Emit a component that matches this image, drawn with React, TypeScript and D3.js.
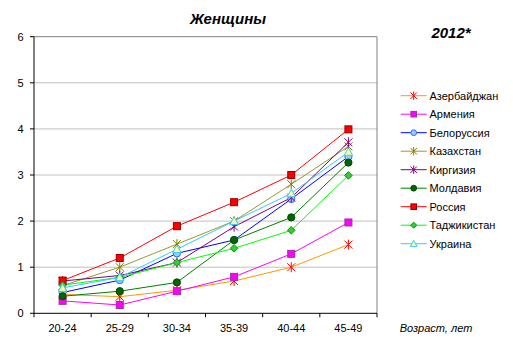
import React from "react";
import * as d3 from "d3";

const categories = ["20-24", "25-29", "30-34", "35-39", "40-44", "45-49"];
const yTicks = [0, 1, 2, 3, 4, 5, 6];

const azerbaijan = [0.41, 0.36, 0.5, 0.7, 1.0, 1.49];
const armenia = [0.27, 0.18, 0.48, 0.79, 1.29, 1.97];
const belarus = [0.45, 0.72, 1.3, 1.59, 2.48, 3.4];
const kazakhstan = [0.6, 1.0, 1.5, 2.0, 2.8, 3.62];
const kyrgyzstan = [0.7, 0.82, 1.1, 1.88, 2.51, 3.71];
const moldova = [0.37, 0.48, 0.67, 1.59, 2.08, 3.27];
const russia = [0.71, 1.2, 1.89, 2.41, 3.0, 3.99];
const tajikistan = [0.61, 0.78, 1.1, 1.41, 1.8, 2.99];
const ukraine = [0.55, 0.78, 1.39, 2.0, 2.6, 3.5];

type Marker = "star" | "square" | "circle" | "diamond" | "triangle";
interface Series {
  name: string;
  values: number[];
  line: string;
  fill: string;
  stroke: string;
  marker: Marker;
}

const series: Series[] = [
  { name: "Азербайджан", values: azerbaijan, line: "#ff9900", fill: "none", stroke: "#ff0000", marker: "star" },
  { name: "Армения", values: armenia, line: "#ff00ff", fill: "#ff00ff", stroke: "#993399", marker: "square" },
  { name: "Белоруссия", values: belarus, line: "#0000ff", fill: "#99ccff", stroke: "#3366ff", marker: "circle" },
  { name: "Казахстан", values: kazakhstan, line: "#999933", fill: "none", stroke: "#808000", marker: "star" },
  { name: "Киргизия", values: kyrgyzstan, line: "#800080", fill: "none", stroke: "#800080", marker: "star" },
  { name: "Молдавия", values: moldova, line: "#008000", fill: "#006400", stroke: "#004d00", marker: "circle" },
  { name: "Россия", values: russia, line: "#ff0000", fill: "#ff0000", stroke: "#990000", marker: "square" },
  { name: "Таджикистан", values: tajikistan, line: "#00ff00", fill: "#33cc33", stroke: "#009900", marker: "diamond" },
  { name: "Украина", values: ukraine, line: "#33ccff", fill: "#ffff99", stroke: "#33ccff", marker: "triangle" },
];

const FONT = "'Liberation Sans', Arial, sans-serif";

function MarkerShape({ m, x, y, fill, stroke, r = 1 }: { m: Marker; x: number; y: number; fill: string; stroke: string; r?: number }) {
  if (m === "star") {
    const s = 4 * r;
    const p = `M${x - s},${y - s}L${x + s},${y + s}M${x - s},${y + s}L${x + s},${y - s}M${x},${y - s - 1}L${x},${y + s + 1}`;
    return <path d={p} stroke={stroke} strokeWidth={1} fill="none" />;
  }
  if (m === "square") {
    const s = 3.5 * r;
    return <rect x={x - s} y={y - s} width={2 * s} height={2 * s} fill={fill} stroke={stroke} strokeWidth={1} />;
  }
  if (m === "circle") {
    return <circle cx={x} cy={y} r={3.6 * r} fill={fill} stroke={stroke} strokeWidth={1} />;
  }
  if (m === "diamond") {
    const s = 3.8 * r;
    return <path d={`M${x},${y - s}L${x + s},${y}L${x},${y + s}L${x - s},${y}Z`} fill={fill} stroke={stroke} strokeWidth={1} />;
  }
  const s = 4.2 * r;
  return <path d={`M${x},${y - s}L${x + s},${y + s * 0.8}L${x - s},${y + s * 0.8}Z`} fill={fill} stroke={stroke} strokeWidth={1} />;
}

export default function App() {
  const W = 513, H = 355;
  const left = 34, right = 377, top = 36.7, bottom = 313.3;
  const x = d3.scaleBand<string>().domain(categories).range([left, right]);
  const y = d3.scaleLinear().domain([0, 6]).range([bottom, top]);
  const line = d3
    .line<number>()
    .x((_, i) => (x(categories[i]) as number) + x.bandwidth() / 2)
    .y((v) => y(v));

  const legendX = 400.7, legendY0 = 95.7, legendStep = 18.5;

  return (
    <svg width={W} height={H} style={{ position: "absolute", left: 0, top: 0, background: "#fff" }} fontFamily={FONT}>
      <rect x={0} y={0} width={W} height={H} fill="#fff" />
      {yTicks.slice(1, -1).map((t) => (
        <line key={t} x1={left} x2={right} y1={y(t)} y2={y(t)} stroke="#c0c0c0" strokeWidth={1} />
      ))}
      <line x1={left} x2={right} y1={top} y2={top} stroke="#808080" />
      <line x1={right} x2={right} y1={top} y2={bottom} stroke="#808080" />
      <line x1={left} x2={left} y1={top} y2={bottom} stroke="#000" />
      <line x1={left} x2={right} y1={bottom} y2={bottom} stroke="#000" />
      {yTicks.map((t) => (
        <g key={t}>
          <line x1={left - 4} x2={left} y1={y(t)} y2={y(t)} stroke="#000" />
          <text x={20.5} y={y(t) + 4} fontSize={11} textAnchor="middle" fill="#000">
            {t}
          </text>
        </g>
      ))}
      {categories.map((c, i) => (
        <g key={c}>
          <line x1={x(c) as number} x2={x(c) as number} y1={bottom} y2={bottom + 4} stroke="#000" />
          {i === categories.length - 1 && <line x1={right} x2={right} y1={bottom} y2={bottom + 4} stroke="#000" />}
          <text x={(x(c) as number) + x.bandwidth() / 2} y={332} fontSize={11} textAnchor="middle" fill="#000">
            {c}
          </text>
        </g>
      ))}
      {series.map((s) => (
        <g key={s.name}>
          <path d={line(s.values) || ""} fill="none" stroke={s.line} strokeWidth={1} />
        </g>
      ))}
      {series.map((s) => (
        <g key={s.name + "m"}>
          {s.values.map((v, i) => (
            <MarkerShape key={i} m={s.marker} x={(x(categories[i]) as number) + x.bandwidth() / 2} y={y(v)} fill={s.fill} stroke={s.stroke} />
          ))}
        </g>
      ))}
      <text x={228} y={24} fontSize={15} fontWeight="bold" fontStyle="italic" textAnchor="middle" fill="#000">
        Женщины
      </text>
      <text x={451} y={38} fontSize={15} fontWeight="bold" fontStyle="italic" textAnchor="middle" fill="#000">
        2012*
      </text>
      <text x={436} y={332} fontSize={11} fontStyle="italic" textAnchor="middle" fill="#000">
        Возраст, лет
      </text>
      {series.map((s, i) => {
        const ly = legendY0 + i * legendStep;
        return (
          <g key={s.name + "l"}>
            <line x1={legendX} x2={legendX + 26} y1={ly} y2={ly} stroke={s.line} />
            <MarkerShape m={s.marker} x={legendX + 13} y={ly} fill={s.fill} stroke={s.stroke} r={0.8} />
            <text x={429.5} y={ly + 4} fontSize={11} fill="#000">
              {s.name}
            </text>
          </g>
        );
      })}
    </svg>
  );
}
